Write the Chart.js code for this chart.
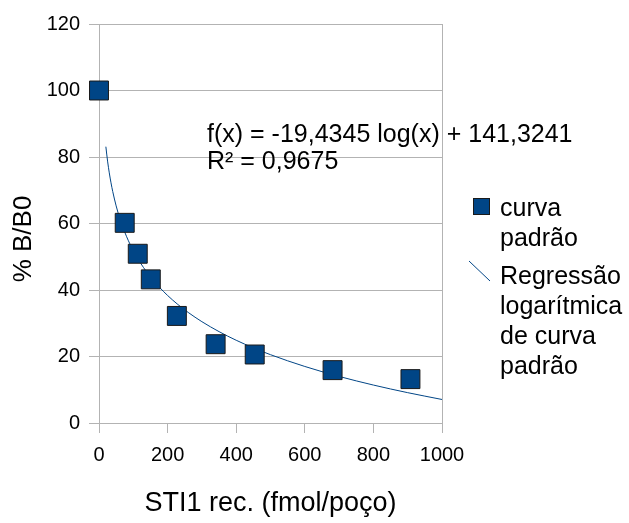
<!DOCTYPE html>
<html>
<head>
<meta charset="utf-8">
<script src="https://cdn.jsdelivr.net/npm/chart.js@4.4.1/dist/chart.umd.min.js"></script>
<style>
  html, body { margin: 0; padding: 0; background: #fff; }
  #wrap { width: 629px; height: 523px; }
</style>
</head>
<body>
<div id="wrap"><canvas id="chart"></canvas></div>
<script>
// measured standard curve
const concentrations = [0, 75, 113, 151, 227, 340, 454, 681, 908];
const percentB = [100, 60.2, 50.9, 43.2, 32.2, 23.7, 20.6, 15.9, 13.2];

// logarithmic regression shown on the chart
const slope = -19.4345;
const intercept = 141.3241;
const trendX = [20, 25, 30, 35, 40, 50, 60, 70, 80, 90, 100, 115, 130, 150, 175, 200, 230, 260, 300, 350, 400, 450, 500, 600, 700, 800, 900, 1000];

const xTicks = [0, 200, 400, 600, 800, 1000];
const yTicks = [0, 20, 40, 60, 80, 100, 120];

const equationLines = ['f(x) = -19,4345 log(x) + 141,3241', 'R\u00b2 = 0,9675'];
const legendPoints = ['curva', 'padr\u00e3o'];
const legendTrend = ['Regress\u00e3o', 'logar\u00edtmica', 'de curva', 'padr\u00e3o'];

const blue = '#004586';
const gridColor = '#b3b3b3';
const font = 'Liberation Sans, Arial, sans-serif';

const annotations = {
  id: 'annotations',
  afterDraw(chart) {
    const ctx = chart.ctx;
    ctx.save();
    ctx.fillStyle = '#000';
    ctx.textBaseline = 'alphabetic';

    // equation
    ctx.font = '25px ' + font;
    ctx.textAlign = 'left';
    equationLines.forEach((t, i) => ctx.fillText(t, 207, 142 + i * 27));

    // y title
    ctx.save();
    ctx.translate(24, 239);
    ctx.rotate(-Math.PI / 2);
    ctx.font = '26px ' + font;
    ctx.textAlign = 'center';
    ctx.textBaseline = 'middle';
    ctx.fillText('% B/B0', 0, 0);
    ctx.restore();

    // legend
    ctx.fillStyle = blue;
    ctx.strokeStyle = '#1a1a1a';
    ctx.lineWidth = 1;
    ctx.fillRect(473, 198, 16, 16);
    ctx.strokeRect(473.5, 198.5, 16, 16);
    ctx.strokeStyle = blue;
    ctx.beginPath();
    ctx.moveTo(469, 261);
    ctx.lineTo(490, 281);
    ctx.stroke();
    ctx.fillStyle = '#000';
    ctx.font = '25px ' + font;
    legendPoints.forEach((t, i) => ctx.fillText(t, 500, 216 + i * 30));
    legendTrend.forEach((t, i) => ctx.fillText(t, 500, 284 + i * 30));
    ctx.restore();
  }
};

new Chart(document.getElementById('chart'), {
  type: 'scatter',
  data: {
    datasets: [
      {
        label: 'curva padrão',
        data: concentrations.map((x, i) => ({ x, y: percentB[i] })),
        pointStyle: 'rect',
        pointRadius: 13.4,
        pointHoverRadius: 13.4,
        backgroundColor: blue,
        borderColor: '#1a1a1a',
        borderWidth: 1,
        clip: false,
        order: 1
      },
      {
        label: 'Regressão logarítmica de curva padrão',
        data: trendX.map(x => ({ x, y: slope * Math.log(x) + intercept })),
        showLine: true,
        pointRadius: 0,
        borderColor: blue,
        borderWidth: 1,
        cubicInterpolationMode: 'monotone',
        order: 2
      }
    ]
  },
  options: {
    responsive: true,
    maintainAspectRatio: false,
    animation: false,
    layout: { padding: { top: 24, right: 187, left: 0, bottom: 0 } },
    plugins: {
      legend: { display: false },
      tooltip: { enabled: false }
    },
    scales: {
      x: {
        type: 'linear',
        min: 0,
        max: 1000,
        afterFit: scale => { scale.height = 100; },
        afterBuildTicks: scale => { scale.ticks = xTicks.map(v => ({ value: v })); },
        ticks: {
          color: '#000',
          font: { family: font, size: 20 },
          padding: 10,
          maxRotation: 0,
          callback: v => String(v)
        },
        grid: {
          color: ctx => (ctx.tick && (ctx.tick.value === 0 || ctx.tick.value === 1000)) ? gridColor : 'rgba(0,0,0,0)',
          tickColor: gridColor,
          tickLength: 10
        },
        border: { color: gridColor },
        title: {
          display: true,
          text: 'STI1 rec. (fmol/poço)',
          color: '#000',
          font: { family: font, size: 27 },
          padding: { top: 0, bottom: 3 }
        }
      },
      y: {
        min: 0,
        max: 120,
        afterFit: scale => { scale.width = 99; },
        afterBuildTicks: scale => { scale.ticks = yTicks.map(v => ({ value: v })); },
        ticks: { color: '#000', font: { family: font, size: 20 }, padding: 9 },
        grid: { color: gridColor, tickColor: gridColor, tickLength: 10 },
        border: { color: gridColor }
      }
    }
  },
  plugins: [annotations]
});
</script>
</body>
</html>
